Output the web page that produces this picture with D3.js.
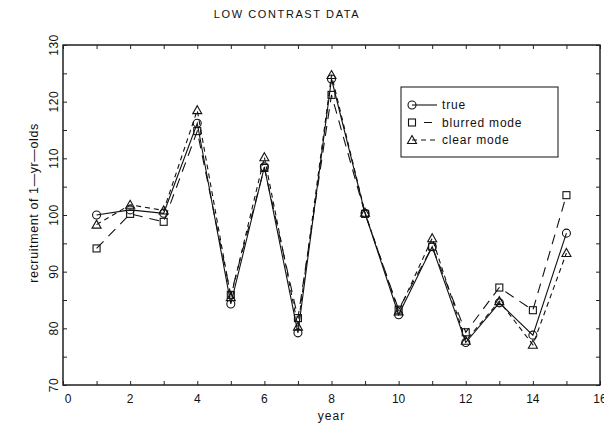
<!DOCTYPE html>
<html>
<head>
<meta charset="utf-8">
<script src="https://cdn.jsdelivr.net/npm/d3@7"></script>
<style>
  body { margin: 0; background: #fff; }
  text { font-family: "Liberation Sans", "DejaVu Sans", sans-serif; fill: #111; }
</style>
</head>
<body>
<div id="chart"></div>
<script>
var years = [1, 2, 3, 4, 5, 6, 7, 8, 9, 10, 11, 12, 13, 14, 15]
var trueVals    = [100.0, 100.9, 100.3, 116.2, 84.3, 108.5, 79.2, 124.0, 100.3, 82.4, 94.4, 77.5, 84.5, 78.8, 96.8]
var blurredVals = [94.1, 100.2, 98.8, 114.8, 85.9, 108.3, 81.8, 121.2, 100.2, 83.3, 94.4, 79.3, 87.2, 83.2, 103.5]
var clearVals   = [98.3, 101.8, 100.8, 118.5, 85.5, 110.2, 80.3, 124.7, 100.4, 83.0, 95.9, 77.8, 84.8, 77.1, 93.3]
var xTicks = d3.range(0, 17)
var xLabels = [0, 2, 4, 6, 8, 10, 12, 14, 16]
var yTicks = d3.range(70, 131, 5)
var yLabels = [70, 80, 90, 100, 110, 120, 130]
var legendNames = ['true', 'blurred mode', 'clear mode']

var W = 604, H = 432
var pLeft = 63, pRight = 600, pTop = 45, pBottom = 385

var x = d3.scaleLinear().domain([0, 16]).range([pLeft, pRight])
var y = d3.scaleLinear().domain([70, 130]).range([pBottom, pTop])

var svg = d3.select('#chart')
            .append('svg')
              .attr('width', W)
              .attr('height', H)

// title
svg.append('text')
    .attr('x', 287)
    .attr('y', 18)
    .attr('text-anchor', 'middle')
    .style('font-size', '11px')
    .style('letter-spacing', '1.6px')
    .text('LOW CONTRAST DATA')

// frame
svg.append('rect')
    .attr('x', pLeft)
    .attr('y', pTop)
    .attr('width', pRight - pLeft)
    .attr('height', pBottom - pTop)
    .style('fill', 'none')
    .style('stroke', '#111')
    .style('stroke-width', 1.4)

// inward ticks on all four sides
function tickLines(axis, pos) {
  var g = svg.append('g').attr('transform', pos).call(axis)
  g.select('.domain').remove()
  g.selectAll('line').style('stroke', '#222').style('stroke-width', 1)
  g.selectAll('text').remove()
}
tickLines(d3.axisBottom(x).tickValues(xTicks).tickSize(-4), 'translate(0,' + pBottom + ')')
tickLines(d3.axisTop(x).tickValues(xTicks).tickSize(-4), 'translate(0,' + pTop + ')')
tickLines(d3.axisLeft(y).tickValues(yTicks).tickSize(-4), 'translate(' + pLeft + ',0)')
tickLines(d3.axisRight(y).tickValues(yTicks).tickSize(-4), 'translate(' + pRight + ',0)')

// x labels
svg.selectAll('.xl')
  .data(xLabels)
  .enter().append('text')
    .attr('x', d => d === 0 ? x(d) + 5 : x(d))
    .attr('y', 403)
    .attr('text-anchor', 'middle')
    .style('font-size', '12px')
    .text(d => d)

// y labels, rotated
svg.selectAll('.yl')
  .data(yLabels)
  .enter().append('text')
    .attr('transform', d => 'translate(58,' + y(d) + ') rotate(-90)')
    .attr('text-anchor', 'middle')
    .style('font-size', '12px')
    .style('letter-spacing', '0.5px')
    .text(d => d)

svg.append('text')
    .attr('x', x(8))
    .attr('y', 420)
    .attr('text-anchor', 'middle')
    .style('font-size', '12px')
    .style('letter-spacing', '1px')
    .text('year')

svg.append('text')
    .attr('transform', 'translate(38,203) rotate(-90)')
    .attr('text-anchor', 'middle')
    .style('font-size', '12.5px')
    .style('letter-spacing', '0.6px')
    .text('recruitment of 1\u2014yr\u2014olds')

// series
var series = [
  { name: legendNames[0], vals: trueVals, dash: null, mark: 'circle' },
  { name: legendNames[1], vals: blurredVals, dash: '10,7', mark: 'square' },
  { name: legendNames[2], vals: clearVals, dash: '5,4', mark: 'triangle' }
]

var line = d3.line().x((d, i) => x(years[i])).y(d => y(d))

function marker(g, kind, cx, cy) {
  if (kind === 'circle') {
    g.append('circle').attr('cx', cx).attr('cy', cy).attr('r', 4)
  } else if (kind === 'square') {
    g.append('rect').attr('x', cx - 3.5).attr('y', cy - 3.5).attr('width', 7).attr('height', 7)
  } else {
    g.append('path').attr('d', 'M' + cx + ',' + (cy - 4.5) + 'L' + (cx + 4.5) + ',' + (cy + 3.5) + 'L' + (cx - 4.5) + ',' + (cy + 3.5) + 'Z')
  }
}

series.forEach(function(s) {
  svg.append('path')
      .datum(s.vals)
      .attr('d', line)
      .style('fill', 'none')
      .style('stroke', '#111')
      .style('stroke-width', 1.1)
      .style('stroke-dasharray', s.dash)
  var g = svg.append('g')
             .style('fill', 'none')
             .style('stroke', '#111')
             .style('stroke-width', 1.1)
  s.vals.forEach(function(v, i) { marker(g, s.mark, x(years[i]), y(v)) })
})

// legend
svg.append('rect')
    .attr('x', 401)
    .attr('y', 87)
    .attr('width', 157)
    .attr('height', 70)
    .style('fill', 'none')
    .style('stroke', '#111')
    .style('stroke-width', 1)

series.forEach(function(s, i) {
  var ly = 105 + i * 17.5
  svg.append('line')
      .attr('x1', 412).attr('x2', 437)
      .attr('y1', ly).attr('y2', ly)
      .style('stroke', '#111')
      .style('stroke-width', 1.1)
      .style('stroke-dasharray', i === 1 ? '0,12,8,20' : s.dash)
  var g = svg.append('g').style('fill', 'none').style('stroke', '#111').style('stroke-width', 1.1)
  marker(g, s.mark, 412, ly)
  svg.append('text')
      .attr('x', 442)
      .attr('y', ly + 4)
      .style('font-size', '12px')
      .style('letter-spacing', '0.8px')
      .text(s.name)
})
</script>
</body>
</html>
